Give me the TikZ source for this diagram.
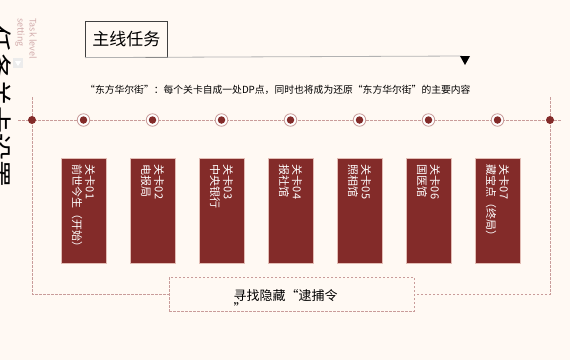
\documentclass[tikz,border=0pt]{standalone}
\usepackage{fontspec}
\setmainfont{Noto Sans CJK SC}
\usepackage{tikz}
\usetikzlibrary{positioning, calc}

\definecolor{levelred}{HTML}{832B29}
\definecolor{boxedge}{HTML}{E2BDB5}
\definecolor{dashpink}{HTML}{C99C9A}
\definecolor{paper}{HTML}{FFF9F3}
\definecolor{tagpink}{HTML}{D2ACAC}

\begin{document}
\begin{tikzpicture}[x=1pt, y=-1pt, font=\small]

  \tikzset{
    levelbox/.style={rectangle, draw=boxedge, fill=levelred,
      line width=0.6pt, minimum width=45pt, minimum height=105pt,
      inner sep=0pt},
    leveltext/.style={rotate=-90, anchor=west, align=left, text=white,
      inner sep=0pt, font=\fontsize{11}{13}\selectfont},
    ring/.style={circle, draw=dashpink, fill=white, line width=0.8pt,
      minimum size=12.5pt, inner sep=0pt},
    reddot/.style={circle, fill=levelred, minimum size=8pt, inner sep=0pt},
    framestyle/.style={dashpink, line width=0.8pt,
      dash pattern=on 2.5pt off 1.5pt}
  }

  \fill[paper] (0,0) rectangle (570,360);
  \useasboundingbox (0,0) rectangle (570,360);

  % side title
  \node[rotate=-90, font=\fontsize{27}{27}\selectfont] (bigtitle)
    at (-1,106) {任务关卡设置};
  \node[rotate=-90, anchor=north west, align=left, text=tagpink,
    inner sep=0pt, font=\fontsize{9}{12}\selectfont] (tag)
    at (37,18) {Task level\\setting};
  \node[fill=gray!15, minimum size=10pt, inner sep=0pt] (tagicon)
    at (18,63) {};
  \fill[white] ($(tagicon)+(-3,-2)$) -- ($(tagicon)+(3,-2)$)
    -- ($(tagicon)+(0,3)$) -- cycle;

  % header
  \node[draw=black!75, line width=0.6pt, minimum width=82pt,
    minimum height=36pt, anchor=north west,
    font=\fontsize{17}{17}\selectfont] (title) at (85,21) {主线任务};
  \coordinate (tri) at (465,56);
  \draw[gray!60, line width=0.8pt] (title.south west) -- ($(tri)+(-3,0)$);
  \fill ($(tri)+(-5,0)$) -- ($(tri)+(5,0)$) -- ($(tri)+(0,9)$) -- cycle;
  \node[anchor=west, inner sep=0pt, font=\fontsize{9.8}{10}\selectfont]
    (intro) at (85,90)
    {“东方华尔街”：每个关卡自成一处DP点，同时也将成为还原“东方华尔街”的主要内容};

  % dashed frame
  \coordinate (hl) at (18,120);
  \coordinate (hr) at (562,120);
  \coordinate (ltop) at (32,97);
  \coordinate (rtop) at (550,97);
  \draw[framestyle] (hl) -- (hr);
  \node[draw=dashpink, line width=0.8pt, dash pattern=on 2.5pt off 1.5pt,
    fill=paper, minimum width=245pt, minimum height=34pt] (hunt)
    at (291.5,294) {};
  \node[align=left, inner sep=0pt, font=\fontsize{13}{13}\selectfont]
    (huntlabel) at ($(hunt.center)+(-6,7)$) {寻找隐藏“逮捕令\\”};
  \draw[framestyle] (ltop) |- (hunt.west);
  \draw[framestyle] (rtop) |- (hunt.east);
  \node[reddot] (dl) at (32,120) {};
  \node[reddot] (dr) at (550,120) {};

  % levels
  \foreach \i/\lbl in {1/前世今生（开始）, 2/电报局, 3/中央银行, 4/报社馆,
                       5/照相馆, 6/国医馆, 7/藏宝点（终局）} {
    \node[ring] (r\i) at ({83.5+69*(\i-1)},120) {};
    \node[reddot, minimum size=7.5pt] at (r\i) {};
    \node[levelbox] (lv\i) at ({83.5+69*(\i-1)},210.5) {};
    \node[leveltext] (lt\i) at ([yshift=-7pt]lv\i.north) {关卡0\i\\\lbl};
  }

\end{tikzpicture}
\end{document}
